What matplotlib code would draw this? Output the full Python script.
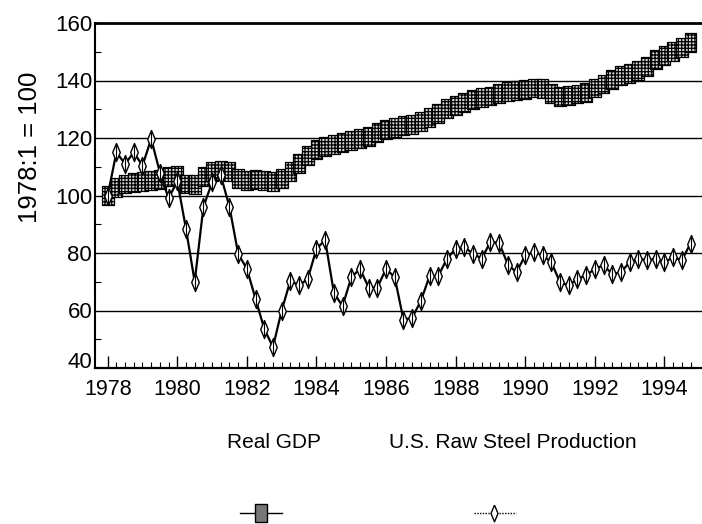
import numpy as np
import matplotlib
matplotlib.use("Agg")
from matplotlib import pyplot as plt
from matplotlib.lines import Line2D
from matplotlib.transforms import ScaledTranslation

############################################
###  Data - quarterly index, 1978:1 = 100
############################################

start_year = 1978
real_gdp = [100, 102.9, 104, 104.6,
            104.8, 105.2, 105.5, 106.5,
            107, 104, 103.8, 106.5,
            108.5, 108.7, 108.2, 106,
            105.3, 105.5, 105.2, 105,
            105.8, 108.5, 111.2, 113.8,
            116, 117, 117.6, 118.3,
            119, 119.8, 120.6, 121.8,
            123, 123.6, 124.2, 124.8,
            125.8, 127, 128.5, 130.3,
            131.3, 132.4, 133.3, 134,
            134.6, 135.6, 136.1, 136.6,
            137, 137.4, 137.2, 135.6,
            134.4, 134.8, 135.3, 135.8,
            137.4, 138.8, 140.4, 141.8,
            142.5, 143.6, 145, 147.3,
            148.6, 150, 151.5, 153.2]

steel = [100, 115, 111, 115,
         110.4, 119.7, 108, 99,
         105, 88.4, 70, 96,
         104.6, 107, 96, 79.7,
         74.5, 64, 53.6, 47.3,
         60, 70.4, 68.7, 71,
         81.5, 84.5, 66.2, 61.5,
         71.5, 74.5, 68, 68,
         74.5, 71.5, 56.8, 57.5,
         63.3, 72, 72, 78,
         81.5, 82, 79.8, 78,
         83.9, 83.5, 76, 73.3,
         79.2, 80.3, 79.2, 76.8,
         69.8, 68.7, 71, 72.2,
         74.5, 75.7, 72.7, 73.3,
         76.8, 78, 77.5, 78,
         76.8, 78.5, 77.5, 83.3]

year_ticks = [1978, 1980, 1982, 1984, 1986, 1988, 1990, 1992, 1994]
y_ticks = [40, 60, 80, 100, 120, 140, 160]

legend_labels = ["Real GDP", "U.S. Raw Steel Production"]

quarters = start_year + np.arange(len(real_gdp)) / 4.0

############################################
###  Styles
############################################

sans = ["Liberation Sans", "DejaVu Sans"]
gdp_box = [(-0.62, -1), (0.62, -1), (0.62, 1), (-0.62, 1), (-0.62, -1)]   ## tall box
diamond = [(0, 1), (0.42, 0), (0, -1), (-0.42, 0), (0, 1)]                ## thin diamond

plt.rcParams["hatch.linewidth"] = 0.9

fig = plt.figure(figsize=(7.02, 5.24), dpi=100)
ax = fig.add_axes([95/702, 1 - 368/524, 607/702, 345/524])

############################################
###  Plot the two series
############################################

ax.plot(quarters, real_gdp, "k-", lw=1.0, zorder=3)
ax.scatter(quarters, real_gdp, marker=gdp_box, s=185, facecolor="#d8d8d8",
           edgecolor="black", linewidth=0.9, hatch="+++++", zorder=4)

ax.plot(quarters, steel, "k-", lw=1.6, zorder=5)
ax.plot(quarters, steel, linestyle="none", marker=diamond, markersize=13,
        markerfacecolor="white", markeredgecolor="black", markeredgewidth=1.0, zorder=6)
ax.plot(quarters, steel, linestyle="none", marker="|", markersize=10,
        markeredgecolor="black", markeredgewidth=0.8, zorder=7)

############################################
###  Axes styling
############################################

ax.set_xlim(1977.635, 1995.08)
ax.set_ylim(40, 160)

for g in y_ticks[1:-1]:
    ax.axhline(g, color="black", lw=1.0, zorder=1)

ax.spines["right"].set_visible(False)
ax.spines["top"].set_linewidth(2.0)
ax.spines["left"].set_linewidth(1.5)
ax.spines["bottom"].set_linewidth(1.6)

ax.set_yticks(y_ticks)
ax.set_yticks(np.arange(50, 160, 20), minor=True)
ax.set_xticks(year_ticks)
ax.set_xticks(quarters, minor=True)

ax.tick_params(axis="y", which="major", length=0, pad=2, labelsize=16)
ax.tick_params(axis="y", which="minor", direction="in", length=4, width=0.8)
ax.tick_params(axis="x", which="major", direction="in", length=9, width=1.0,
               pad=8, labelsize=15.5)
ax.tick_params(axis="x", which="minor", direction="in", length=4, width=0.8)

for lab in ax.get_xticklabels() + ax.get_yticklabels():
    lab.set_family(sans)

## the bottom "40" sits a little above the axis line in the original
lab40 = ax.get_yticklabels()[0]
lab40.set_transform(lab40.get_transform() + ScaledTranslation(0, 6/72, fig.dpi_scale_trans))

ax.set_ylabel("1978:1 = 100", fontsize=18.5, family=sans)
ax.yaxis.set_label_coords(-0.088, 0.64)

############################################
###  Legend: text above, key below
############################################

fig.text(274/702, 1 - 443/524, legend_labels[0], ha="center", va="center",
         fontsize=15, family=sans)
fig.text(513/702, 1 - 443/524, legend_labels[1], ha="center", va="center",
         fontsize=15, family=sans)

key_y = 1 - 513/524
fig.add_artist(Line2D([240/702, 282/702], [key_y, key_y], color="black", lw=1.0))
fig.add_artist(Line2D([261/702], [key_y], marker=gdp_box, markersize=13,
                      markerfacecolor="#777777", markeredgecolor="black"))
fig.add_artist(Line2D([474/702, 516/702], [key_y, key_y], color="black",
                      lw=1.0, linestyle=(0, (1, 1))))
fig.add_artist(Line2D([494/702], [key_y], marker=diamond, markersize=12,
                      markerfacecolor="white", markeredgecolor="black"))

fig.savefig("out.png", dpi=100)
